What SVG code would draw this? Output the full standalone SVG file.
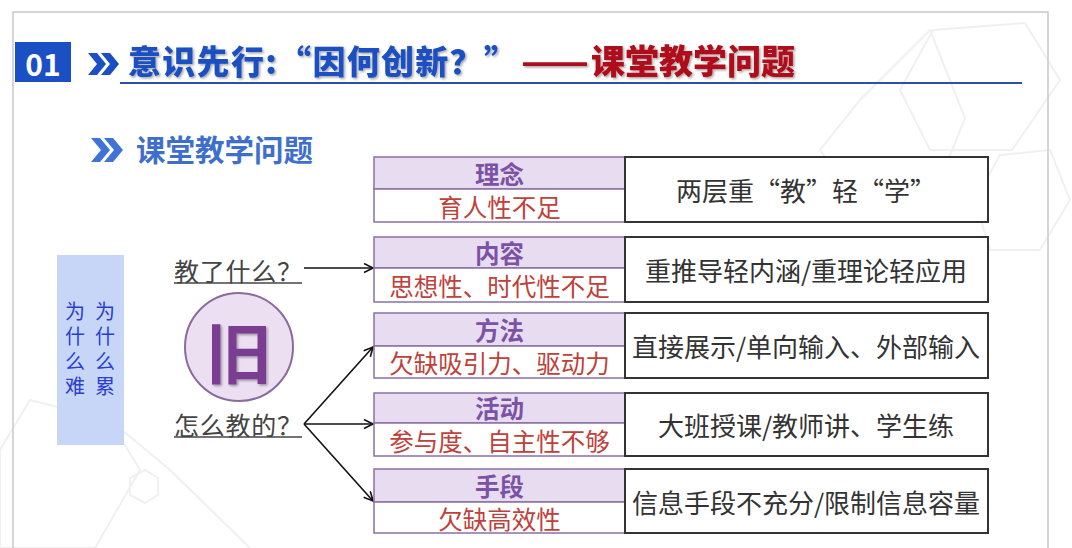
<svg xmlns="http://www.w3.org/2000/svg" width="1072" height="548" viewBox="0 0 1072 548">
<defs>
<marker id="arr" markerWidth="12" markerHeight="12" refX="10" refY="5" orient="auto" markerUnits="userSpaceOnUse">
<path d="M1,0.5 L10,5 L1,9.5" fill="none" stroke="#111" stroke-width="1.6"/>
</marker>
<filter id="sh" x="-10%" y="-10%" width="130%" height="140%">
<feDropShadow dx="1.5" dy="1.5" stdDeviation="0.8" flood-color="#000" flood-opacity="0.35"/>
</filter>
</defs>
<style>
.cjk{font-family:"Noto Sans CJK SC","Noto Sans",sans-serif}
.hd{font-size:24.5px;font-weight:bold;fill:#7b52a6;text-anchor:middle;dominant-baseline:central}
.rd{font-size:24.5px;fill:#c0403a;text-anchor:middle;dominant-baseline:central}
.rt{font-size:26px;fill:#333;text-anchor:middle;dominant-baseline:central}
.hcell{fill:#e8dcf1;stroke:#8b6fa3;stroke-width:1.5}
.wcell{fill:#fff;stroke:#8b6fa3;stroke-width:1.5}
.rbox{fill:#fff;stroke:#333;stroke-width:2}
.q{font-size:25px;fill:#444;dominant-baseline:central}
.bg{fill:none;stroke:#f0f0f0;stroke-width:2}
.conn{fill:none;stroke:#111;stroke-width:1.6}
.vt{font-size:20px;fill:#2b3ed2;writing-mode:vertical-rl;letter-spacing:5px}
</style>
<rect width="1072" height="548" fill="#fff"/>
<!-- background hexagons -->
<g id="background">
<polygon class="bg" points="933,30 1025,23 1060,80 1012,150 930,150 900,90"/>
<polygon class="bg" points="860,100 930,30 965,118 930,205 860,205 820,150"/>
<polygon class="bg" points="1000,155 1050,150 1070,200 1040,250 990,250 975,200"/>
<polygon class="bg" points="30,400 110,420 140,470 95,548 0,548 0,450"/>
<polygon class="bg" points="130,478 145,470 158,478 158,495 145,503 130,495"/>
<polyline class="bg" points="110,420 170,470 250,548"/>
</g>
<rect x="13" y="12" width="1035" height="560" fill="none" stroke="#c9c9c9" stroke-width="1.5"/>
<!-- header -->
<g id="header">
<rect x="15" y="42" width="56" height="40" fill="#1b4fc4"/>
<text x="43" y="63" class="cjk" font-size="30" font-weight="bold" fill="#fff" text-anchor="middle" dominant-baseline="central">01</text>
<path d="M88,53 L97,53 L106,64 L97,75 L88,75 L97,64 Z M101,53 L110,53 L119,64 L110,75 L101,75 L110,64 Z" fill="#1b4fc4"/>
<text x="128" y="74" class="cjk" font-size="33" font-weight="900" fill="#1d4fc2" filter="url(#sh)" letter-spacing="1.3">意识先行:“因何创新？”</text>
<text x="521" y="74" class="cjk" font-size="33" font-weight="900" fill="#b0101a" filter="url(#sh)" textLength="68" lengthAdjust="spacingAndGlyphs">——</text>
<text x="591" y="74" class="cjk" font-size="34" font-weight="900" fill="#b0101a" filter="url(#sh)">课堂教学问题</text>
<line x1="120" y1="83" x2="1022" y2="83" stroke="#2d4fa6" stroke-width="2"/>
</g>
<g id="subtitle">
<path d="M91,138 L100,138 L110,150 L100,162 L91,162 L101,150 Z M104,138 L113,138 L123,150 L113,162 L104,162 L114,150 Z" fill="#3f74d6"/>
<text x="136" y="161" class="cjk" font-size="29.5" font-weight="bold" fill="#3f6fcc">课堂教学问题</text>
</g>
<!-- left side box -->
<g id="why-box">
<rect x="57" y="255" width="67" height="190" fill="#c7d6f6"/>
<text x="75" y="301" class="cjk vt">为什么难</text>
<text x="105" y="301" class="cjk vt">为什么累</text>
</g>
<g id="q-what">
<text x="174" y="270" class="cjk q" textLength="128" lengthAdjust="spacing">教了什么？</text>
<line x1="174" y1="283" x2="302" y2="283" stroke="#444" stroke-width="1.5"/>
</g>
<g id="old">
<circle cx="239" cy="347" r="54" fill="#ecdff2" stroke="#8b6a9c" stroke-width="2"/>
<text x="239" y="349" class="cjk" font-size="66" font-weight="bold" fill="#7a3e92" text-anchor="middle" dominant-baseline="central" filter="url(#sh)">旧</text>
</g>
<g id="q-how">
<text x="174" y="424" class="cjk q" textLength="128" lengthAdjust="spacing">怎么教的？</text>
<line x1="174" y1="437" x2="302" y2="437" stroke="#444" stroke-width="1.5"/>
</g>
<!-- connectors -->
<g id="connectors">
<line class="conn" x1="304" y1="268" x2="373" y2="268" marker-end="url(#arr)"/>
<line class="conn" x1="304" y1="424" x2="373" y2="347" marker-end="url(#arr)"/>
<line class="conn" x1="304" y1="424" x2="373" y2="424" marker-end="url(#arr)"/>
<line class="conn" x1="304" y1="424" x2="373" y2="501" marker-end="url(#arr)"/>
</g>
<!-- rows -->
<g id="row-linian" class="cjk">
<rect class="hcell" x="374" y="157" width="251" height="32"/>
<rect class="wcell" x="374" y="189" width="251" height="33"/>
<rect class="rbox" x="625" y="157" width="363" height="65"/>
<text class="hd" x="499.5" y="173">理念</text>
<text class="rd" x="499.5" y="206">育人性不足</text>
<text class="rt" x="806" y="189">两层重“教”轻“学”</text>
</g>
<g id="row-neirong" class="cjk">
<rect class="hcell" x="374" y="237" width="251" height="31"/>
<rect class="wcell" x="374" y="268" width="251" height="34"/>
<rect class="rbox" x="625" y="237" width="363" height="65"/>
<text class="hd" x="499.5" y="252.5">内容</text>
<text class="rd" x="499.5" y="285.5">思想性、时代性不足</text>
<text class="rt" x="806" y="269.5">重推导轻内涵/重理论轻应用</text>
</g>
<g id="row-fangfa" class="cjk">
<rect class="hcell" x="374" y="313" width="251" height="33"/>
<rect class="wcell" x="374" y="346" width="251" height="32"/>
<rect class="rbox" x="625" y="313" width="363" height="65"/>
<text class="hd" x="499.5" y="329.5">方法</text>
<text class="rd" x="499.5" y="362.5">欠缺吸引力、驱动力</text>
<text class="rt" x="806" y="345.5">直接展示/单向输入、外部输入</text>
</g>
<g id="row-huodong" class="cjk">
<rect class="hcell" x="374" y="393" width="251" height="30"/>
<rect class="wcell" x="374" y="423" width="251" height="33"/>
<rect class="rbox" x="625" y="393" width="363" height="63"/>
<text class="hd" x="499.5" y="407.5">活动</text>
<text class="rd" x="499.5" y="440.5">参与度、自主性不够</text>
<text class="rt" x="806" y="424.5">大班授课/教师讲、学生练</text>
</g>
<g id="row-shouduan" class="cjk">
<rect class="hcell" x="374" y="469" width="251" height="33"/>
<rect class="wcell" x="374" y="502" width="251" height="31"/>
<rect class="rbox" x="625" y="469" width="363" height="64"/>
<text class="hd" x="499.5" y="485">手段</text>
<text class="rd" x="499.5" y="518">欠缺高效性</text>
<text class="rt" x="806" y="501">信息手段不充分/限制信息容量</text>
</g>
</svg>
